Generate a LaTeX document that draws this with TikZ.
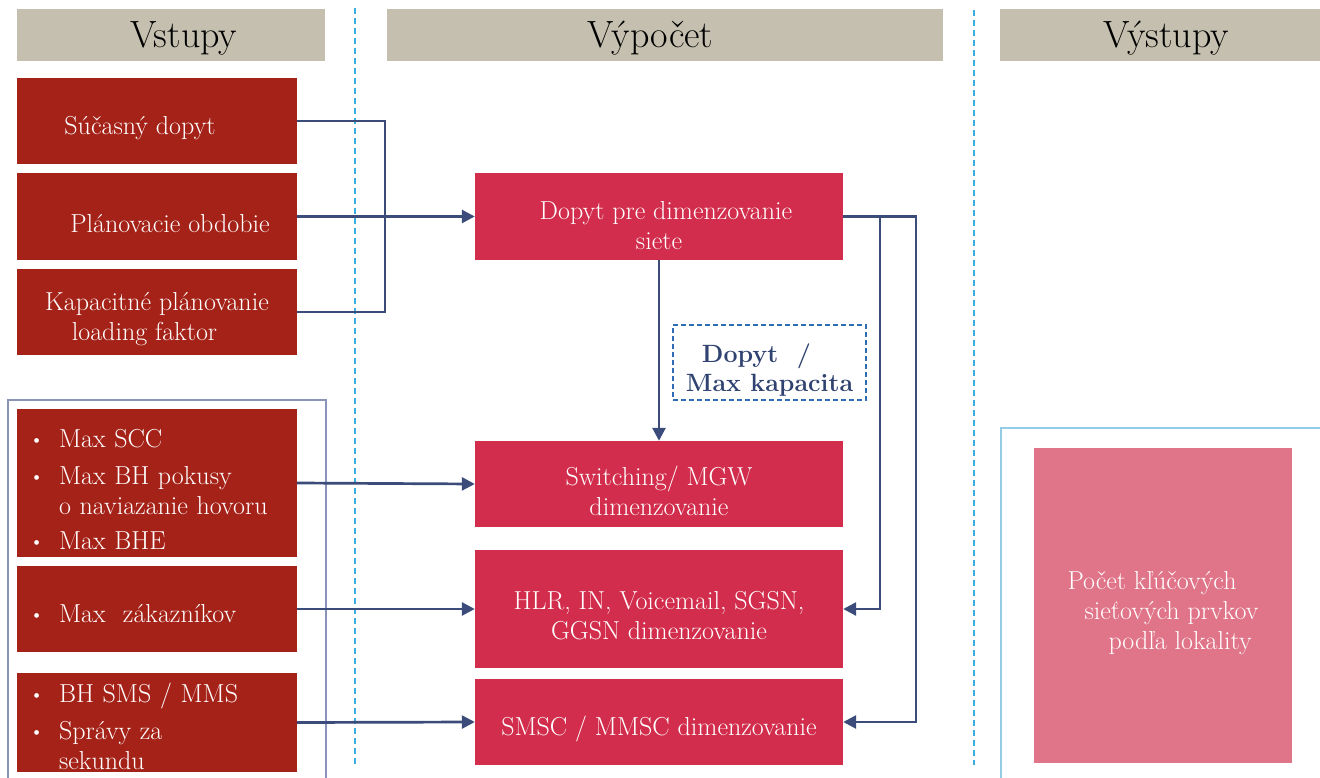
\documentclass[tikz,border=0pt]{standalone}
\usepackage{tikz}
\usetikzlibrary{positioning,arrows.meta}
\usepackage{xcolor}

\definecolor{hdrgray}{HTML}{C4BFAE}
\definecolor{inred}{HTML}{A52218}
\definecolor{calcred}{HTML}{D22D4C}
\definecolor{outpink}{HTML}{E07488}
\definecolor{wireblue}{HTML}{3B4C7A}
\definecolor{sepblue}{HTML}{3BAEDF}
\definecolor{ratioblue}{HTML}{2E6DB3}
\definecolor{ratiotext}{HTML}{2F4270}
\definecolor{grpgray}{HTML}{8A93B8}
\definecolor{grpcyan}{HTML}{93CCE6}

\newcommand{\bul}{\makebox[27pt][l]{\hspace*{-3pt}\raisebox{1pt}{\fontsize{21}{21}\selectfont\textbullet}}}

\begin{document}
\begin{tikzpicture}[x=1pt,y=-1pt,
    hdr/.style={fill=hdrgray,inner sep=0,minimum height=52pt},
    hdrtext/.style={font=\fontsize{38}{40}\selectfont,yshift=-3pt},
    inbox/.style={fill=inred,inner sep=0,minimum width=280pt,minimum height=86pt},
    calcbox/.style={fill=calcred,inner sep=0,minimum width=368pt,minimum height=86pt},
    boxtext/.style={text=white,align=center,font=\fontsize{26}{30}\selectfont,yshift=-7pt},
    listtext/.style={boxtext,text width=250pt,align=left},
    wire/.style={draw=wireblue,line width=2.7pt},
    link/.style={wire,-{Triangle[length=13pt,width=13pt]}},
    sep/.style={draw=sepblue,line width=2.5pt,dash pattern=on 6pt off 4pt}]

    \useasboundingbox (0,0) rectangle (1320,778);

    \node[hdr,minimum width=308pt,label={[hdrtext]center:\hspace*{26pt}Vstupy}] (hin) at (171,35) {};
    \node[hdr,minimum width=556pt,label={[hdrtext]center:\hspace*{-29pt}Výpočet}] (hcalc) at (665,35.5) {};
    \node[hdr,minimum width=320pt,label={[hdrtext]center:\hspace*{12pt}Výstupy}] (hout) at (1160,35.5) {};

    \draw[sep] (355,8) -- (355,765);
    \draw[sep] (974,10) -- (974,765);

    \draw[draw=grpgray,line width=1.2pt] (8,400) rectangle (326,790);
    \draw[draw=grpcyan,line width=1.5pt] (1001,428) rectangle (1330,790);

    \node[inbox,label={[boxtext]center:{Súčasný dopyt\hspace*{34pt}}}] (sd) at (157,121) {};
    \node[inbox,label={[boxtext]center:{Plánovacie obdobie\hspace*{-26pt}}}] (po) at (157,216.5) {};
    \node[inbox,label={[boxtext]center:{Kapacitné plánovanie\\\hspace*{-25pt}loading faktor}}] (kp) at (157,312) {};

    \node[inbox,minimum height=148pt,label={[listtext]center:{\bul Max SCC\\[7pt]\bul Max BH pokusy\\\hspace*{27pt}o naviazanie hovoru\\[5pt]\bul Max BHE}}] (scc) at (157,483) {};
    \node[inbox,label={[listtext,yshift=2pt]center:{\bul Max\ \ zákazníkov}}] (zak) at (157,609) {};
    \node[inbox,minimum height=99pt,label={[listtext,yshift=3pt]center:{\bul BH SMS / MMS\\[7pt]\bul Správy za\\\hspace*{27pt}sekundu}}] (sms) at (157,722.5) {};

    \node[calcbox,label={[boxtext,yshift=-2pt]center:{\hspace*{14pt}Dopyt pre dimenzovanie\\siete}}] (dopyt) at (659,216.5) {};
    \node[calcbox,label={[boxtext]center:{Switching/ MGW\\dimenzovanie}}] (sw) at (659,484) {};
    \node[calcbox,minimum height=118pt,label={[boxtext]center:{HLR, IN, Voicemail, SGSN,\\GGSN dimenzovanie}}] (hlr) at (659,609) {};
    \node[calcbox,label={[boxtext]center:{SMSC / MMSC dimenzovanie}}] (smsc) at (659,722) {};

    \node[draw=ratioblue,line width=1.5pt,dash pattern=on 5pt off 3pt,inner sep=0,minimum width=193pt,minimum height=75pt,label={[text=ratiotext,align=center,font=\fontsize{25}{29}\selectfont\bfseries,yshift=-8pt]center:{\hspace*{-26pt}Dopyt\ \ /\\Max kapacita}}] (ratio) at (769.5,362.5) {};

    \node[fill=outpink,inner sep=0,minimum width=258pt,minimum height=315pt,label={[boxtext,align=left,yshift=-1pt]center:{Počet kľúčových\\\hspace*{17pt}sieťových prvkov\\\hspace*{41pt}podľa lokality}}] (pocet) at (1163,605.5) {};

    \coordinate (merge) at (385,216.5);
    \coordinate (busa) at (880,216.5);
    \coordinate (busb) at (916,216.5);

    \draw[wire] (sd.east) -| (merge);
    \draw[wire] (kp.east) -| (merge);
    \draw[link] (po.east) -- (dopyt.west);

    \draw[link] (dopyt.south) -- (sw.north);
    \draw[link] (dopyt.east) -- (busb) |- (smsc.east);
    \draw[link] (busa) |- (hlr.east);

    \draw[link] (scc.east) -- (sw.west);
    \draw[link] (zak.east) -- (hlr.west);
    \draw[link] (sms.east) -- (smsc.west);
\end{tikzpicture}
\end{document}
